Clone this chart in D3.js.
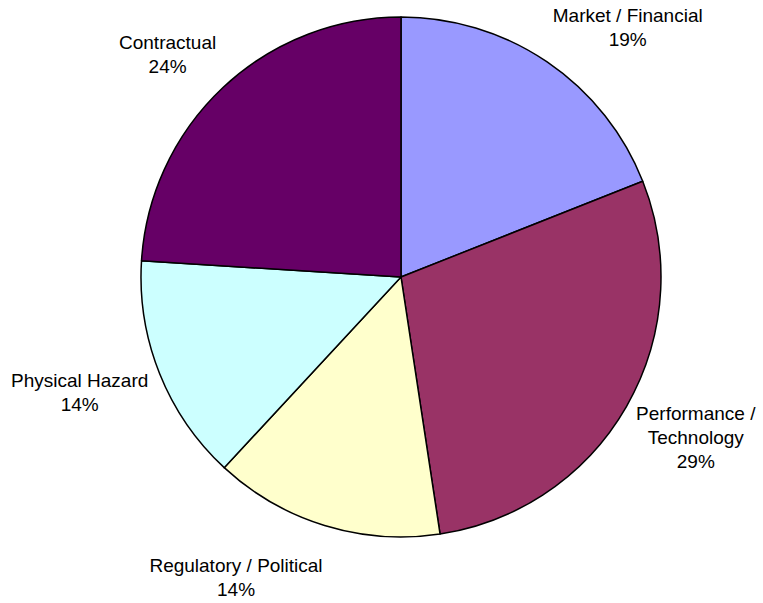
<!DOCTYPE html>
<html lang="en">
<head>
<meta charset="utf-8">
<title>Risk pie</title>
<script src="https://d3js.org/d3.v7.min.js"></script>
<style>
  body { margin: 0; background: #fff; }
  .lbl { font-family: "Liberation Sans", Arial, sans-serif; font-size: 19px; fill: #000; }
</style>
</head>
<body>
<div id="chart"></div>
<script>
// data, clockwise from 12 o'clock
var categories = ["Market / Financial", "Performance / Technology", "Regulatory / Political", "Physical Hazard", "Contractual"];
var labelLines = [["Market / Financial"], ["Performance /", "Technology"], ["Regulatory / Political"], ["Physical Hazard"], ["Contractual"]];
var shares = [19.0, 28.6, 14.3, 14.1, 24.0];
var colors = ["#9999ff", "#993366", "#ffffcc", "#ccffff", "#660066"];

var width = 763, height = 603;
var cx = 401, cy = 277, r = 260;
// small per-label tweaks to sit like the original
var nudge = [[0, -3], [1, -7], [1, 22], [-2, -5], [0, -2]];

var svg = d3.select("#chart").append("svg")
  .attr("width", width)
  .attr("height", height);

var g = svg.append("g").attr("transform", "translate(" + cx + "," + cy + ")");

var pie = d3.pie().sort(null).value(function(d) { return d; });
var arcs = pie(shares);
var arc = d3.arc().innerRadius(0).outerRadius(r);
var total = d3.sum(shares);

g.selectAll("path")
  .data(arcs)
  .enter().append("path")
  .attr("d", arc)
  .attr("fill", function(d, i) { return colors[i]; })
  .attr("stroke", "#000")
  .attr("stroke-width", 1.5)
  .attr("stroke-linejoin", "round");

// labels: box corner touches a point just outside the rim
var lineH = 24;
arcs.forEach(function(d, i) {
  var a = (d.startAngle + d.endAngle) / 2;
  var R = r + 10;
  var px = Math.sin(a) * R + nudge[i][0];
  var py = -Math.cos(a) * R + nudge[i][1];
  var lines = labelLines[i].concat([Math.round(d.value / total * 100) + "%"]);

  var t = g.append("text").attr("class", "lbl").attr("text-anchor", "middle");
  lines.forEach(function(s, k) {
    t.append("tspan").text(s);
  });
  var w = 0;
  t.selectAll("tspan").each(function() { w = Math.max(w, this.getComputedTextLength()); });
  var h = 20 + (lines.length - 1) * lineH;

  var left = Math.sin(a) >= 0 ? px : px - w;
  var top = Math.cos(a) >= 0 ? py - h : py;
  t.selectAll("tspan")
    .attr("x", left + w / 2)
    .attr("y", function(s, k) { return top + 15 + k * lineH; });
});
</script>
</body>
</html>
